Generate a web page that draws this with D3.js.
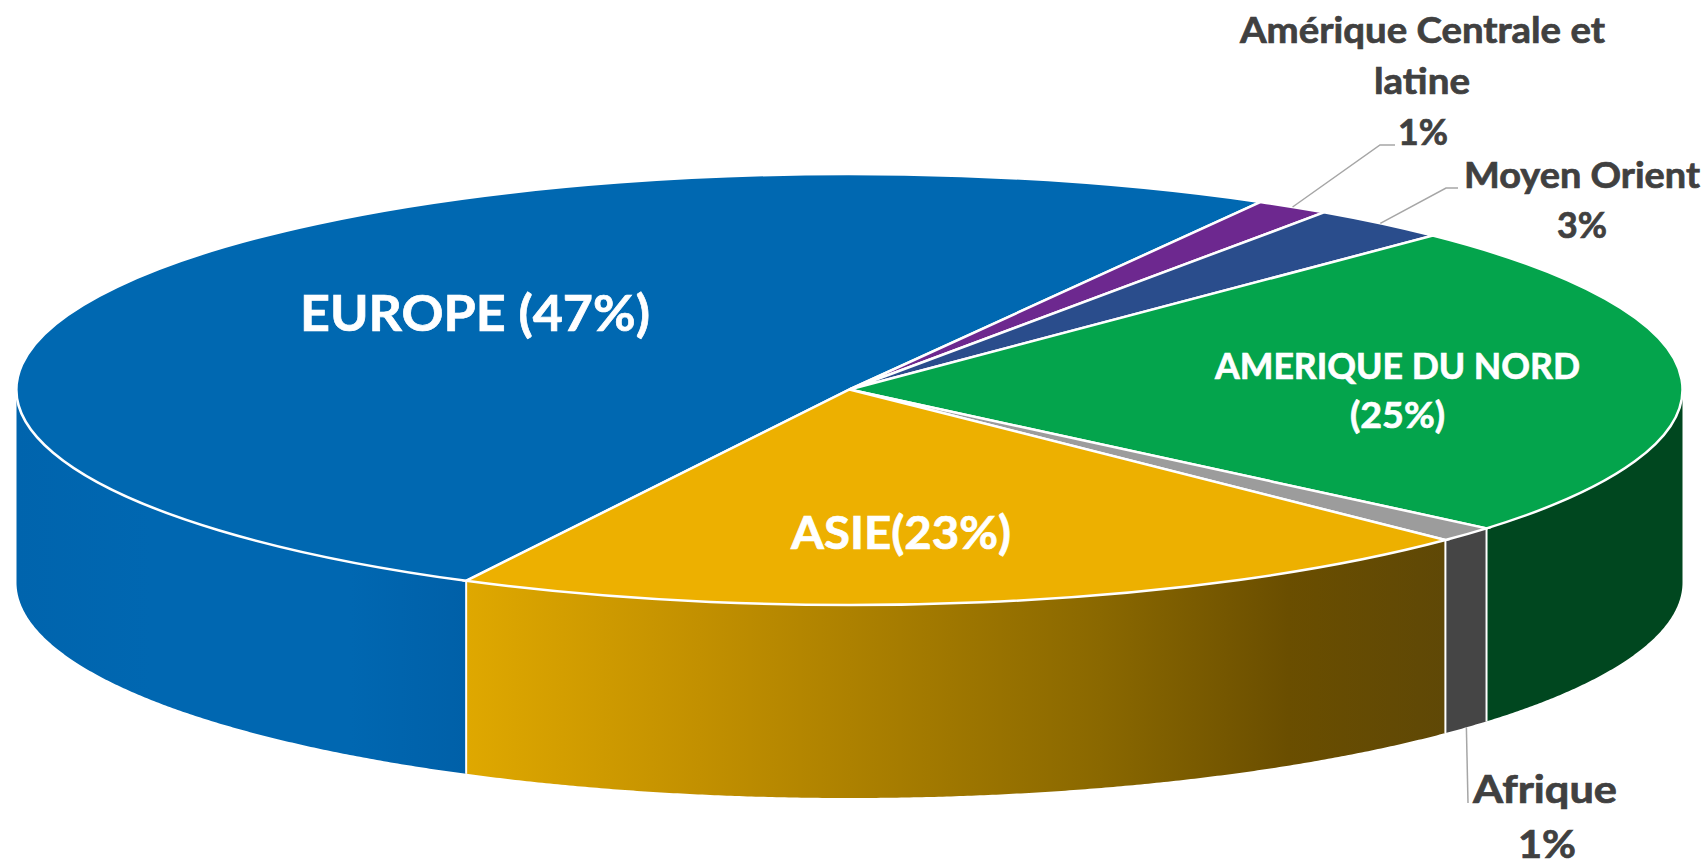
<!DOCTYPE html>
<html>
<head>
<meta charset="utf-8">
<script src="https://cdn.jsdelivr.net/npm/d3@7"></script>
<style>
  html,body{margin:0;padding:0;background:#fff;}
  svg{display:block;}
  text{font-family:Lato,"Open Sans",sans-serif;font-weight:700;}
</style>
</head>
<body>
<svg class="chart"></svg>
<script>
// slices, in drawing order (clockwise)
var regions = ["Europe","Amérique Centrale et latine","Moyen Orient","Amérique du Nord","Afrique","Asie"];
// printed on the chart
var percents = [47,1,3,25,1,23];
// share of the circle each slice really takes in the picture
var shares = [50.6,1.44,2.7,23.8,1.17,20.3];

var topColors = ["#0068b1","#6d288f","#2a4d8c","#04a44c","#9c9c9c","#edb000"];
var sideColors = ["url(#sideEurope)","#4b1a63","#1c3560","#00471f","#454545","url(#sideAsie)"];

var width = 1706;
var height = 866;
var cx = 849.5;
var cy = 389.5;
var rx = 833;
var ry = 215.5;
var depth = 193;
var firstAngle = 207.4*Math.PI/180;

var svg = d3.select(".chart")
  .attr("width",width)
  .attr("height",height);

// gradients on the side wall
var defs = svg.append("defs");
var makeGradient = function(id,stops)
{
  defs.append("linearGradient")
    .attr("id",id)
    .attr("gradientUnits","userSpaceOnUse")
    .attr("x1",0).attr("x2",width).attr("y1",0).attr("y2",0)
    .selectAll("stop")
    .data(stops)
    .enter()
    .append("stop")
    .attr("offset",function(d){return d[0]/width;})
    .attr("stop-color",function(d){return d[1];});
}
makeGradient("sideEurope",[[16,"#0064ad"],[150,"#0067b1"],[350,"#0067b1"],[466,"#0060a8"]]);
makeGradient("sideAsie",[[466,"#dfa800"],[700,"#c29000"],[900,"#a67c00"],[1100,"#8a6800"],[1289,"#6a4e00"],[1446,"#5f4806"]]);

var pie = d3.pie()
  .sort(null)
  .startAngle(firstAngle)
  .endAngle(firstAngle+2*Math.PI);

var slices = pie(shares);

var rimX = function(a){return cx+rx*Math.sin(a);};
var rimY = function(a){return cy-ry*Math.cos(a);};

// the wall only shows on the front half of the disc
var windows = [[Math.PI/2,3*Math.PI/2],[5*Math.PI/2,7*Math.PI/2]];
var walls = [];
slices.forEach(function(d){
  windows.forEach(function(w){
    var from = Math.max(d.startAngle,w[0]);
    var to = Math.min(d.endAngle,w[1]);
    if (from<to){
      walls.push({index:d.index,angles:d3.range(from,to,0.005).concat([to])});
    }
  });
});

var wallArea = d3.area()
  .x(function(a){return rimX(a);})
  .y0(function(a){return rimY(a);})
  .y1(function(a){return rimY(a)+depth;});

svg.selectAll(".wall")
   .data(walls)
   .enter()
   .append("path")
   .attr("class","wall")
   .attr("d",function(d){return wallArea(d.angles);})
   .attr("fill",function(d){return sideColors[d.index];});

// white seams between wall pieces
svg.selectAll(".seam")
   .data(slices.filter(function(d){return Math.cos(d.startAngle)<0;}))
   .enter()
   .append("line")
   .attr("class","seam")
   .attr("x1",function(d){return rimX(d.startAngle);})
   .attr("x2",function(d){return rimX(d.startAngle);})
   .attr("y1",function(d){return rimY(d.startAngle);})
   .attr("y2",function(d){return rimY(d.startAngle)+depth;})
   .attr("stroke","#fff")
   .attr("stroke-width",2);

// top of the disc, a flattened d3.arc
var arc = d3.arc()
  .innerRadius(0)
  .outerRadius(rx);

svg.append("g")
   .attr("transform","translate("+cx+","+cy+") scale(1,"+(ry/rx)+")")
   .selectAll("path")
   .data(slices)
   .enter()
   .append("path")
   .attr("d",arc)
   .attr("fill",function(d){return topColors[d.index];})
   .attr("stroke","#fff")
   .attr("stroke-width",2.5)
   .attr("vector-effect","non-scaling-stroke");

// leader lines, from the middle of the small slices out to their label
var leaders = [
  {index:1,front:false,bend:[1380,145],end:[1395,145]},
  {index:2,front:false,bend:[1446,188],end:[1458,188]},
  {index:4,front:true,bend:[1468,803],end:[1468,803]}
];
var leaderLine = d3.line();

svg.selectAll(".leader")
   .data(leaders)
   .enter()
   .append("path")
   .attr("class","leader")
   .attr("d",function(d){
     var s = slices[d.index];
     var mid = (s.startAngle+s.endAngle)/2;
     return leaderLine([[rimX(mid),rimY(mid)+(d.front?depth:0)],d.bend,d.end]);
   })
   .attr("fill","none")
   .attr("stroke","#a6a6a6")
   .attr("stroke-width",1.5);

// labels
var pct = function(i){return percents[i]+"%";};
var labels = [
  {text:"EUROPE ("+pct(0)+")",x:475,y:331,size:50,len:350,fill:"#fff"},
  {text:"AMERIQUE DU NORD",x:1397.5,y:379,size:36,len:365,fill:"#fff"},
  {text:"("+pct(3)+")",x:1397.5,y:428,size:36,len:95,fill:"#fff"},
  {text:"ASIE("+pct(5)+")",x:901,y:549,size:46,len:220,fill:"#fff"},
  {text:"Amérique Centrale et",x:1422.5,y:43,size:36,len:365,fill:"#404040"},
  {text:"latine",x:1422,y:94,size:36,len:96,fill:"#404040"},
  {text:pct(1),x:1423,y:145,size:36,len:50,fill:"#404040"},
  {text:"Moyen Orient",x:1582,y:188,size:36,len:236,fill:"#404040"},
  {text:pct(2),x:1582,y:238,size:36,len:50,fill:"#404040"},
  {text:"Afrique",x:1545,y:803,size:39,len:144,fill:"#404040"},
  {text:pct(4),x:1547,y:858,size:38,len:58,fill:"#404040"}
];

svg.selectAll(".label")
   .data(labels)
   .enter()
   .append("text")
   .attr("class","label")
   .text(function(d){return d.text;})
   .attr("x",function(d){return d.x;})
   .attr("y",function(d){return d.y;})
   .attr("text-anchor","middle")
   .attr("font-size",function(d){return d.size;})
   .attr("textLength",function(d){return d.len;})
   .attr("lengthAdjust","spacingAndGlyphs")
   .attr("fill",function(d){return d.fill;})
   .attr("stroke",function(d){return d.fill;})
   .attr("stroke-width",0.7);
</script>
</body>
</html>
